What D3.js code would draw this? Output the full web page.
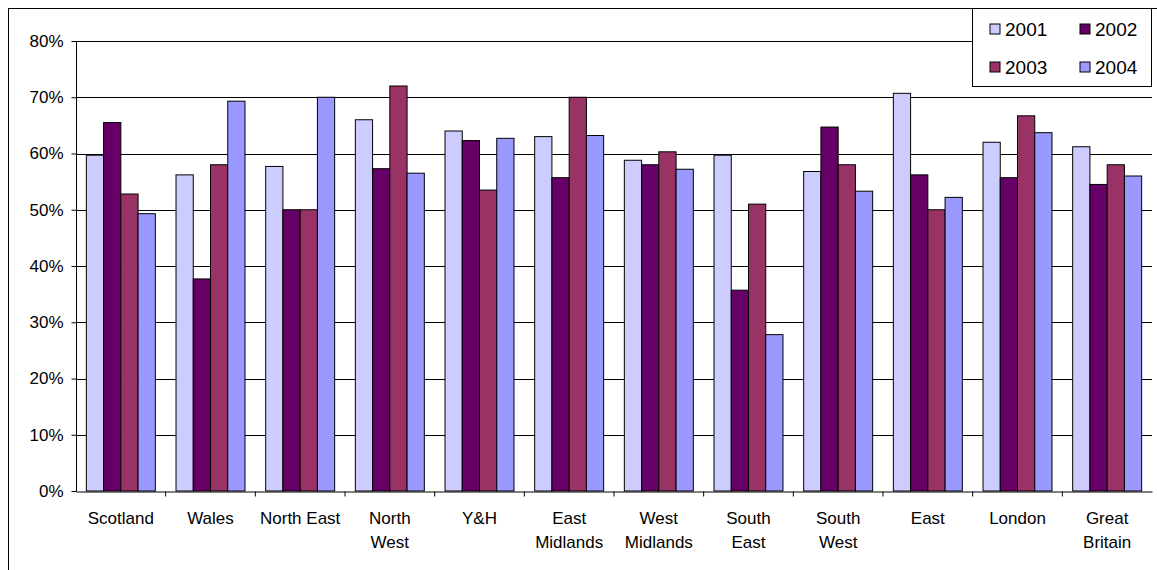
<!DOCTYPE html>
<html><head><meta charset="utf-8">
<script src="https://cdn.jsdelivr.net/npm/d3@7"></script>
<style>body{margin:0;background:#fff}text{font-family:Arial,"Liberation Sans",sans-serif;font-size:17px;fill:#000}</style>
</head><body><svg id="c" width="1157" height="570"></svg>
<script>
const regions = ["Scotland","Wales","North East","North West","Y&H","East Midlands","West Midlands","South East","South West","East","London","Great Britain"];
const years = ["2001","2002","2003","2004"];
const colors = ["#ccccff","#660066","#993366","#9999ff"];
const v2001 = [59.7,56.2,57.7,66,64,63,58.8,59.7,56.8,70.7,62,61.2];
const v2002 = [65.5,37.7,50,57.3,62.3,55.7,58,35.7,64.7,56.2,55.7,54.5];
const v2003 = [52.8,58,50,72,53.5,70,60.3,51,58,50,66.7,58];
const v2004 = [49.3,69.3,70,56.5,62.7,63.2,57.2,27.8,53.3,52.2,63.7,56];
const series = [v2001,v2002,v2003,v2004];
const yTicks = [0,10,20,30,40,50,60,70,80];

const svg = d3.select("#c");
svg.append("rect").attr("x",8.5).attr("y",8.5).attr("width",1160).attr("height",570).attr("fill","none").attr("stroke","#000");

const x = d3.scaleBand().domain(regions).range([76,1152]);
const xi = d3.scaleBand().domain(years).range([0,x.bandwidth()]).paddingOuter(0.6).paddingInner(0);
const y = d3.scaleLinear().domain([0,80]).range([491,41]);

svg.append("g").selectAll("line").data(yTicks.slice(1)).join("line")
  .attr("x1",76).attr("x2",1152).attr("y1",d=>Math.round(y(d))+.5).attr("y2",d=>Math.round(y(d))+.5).attr("stroke","#000");

svg.append("g").attr("transform","translate(76.5,0)")
  .call(d3.axisLeft(y).tickValues(yTicks).tickFormat(d=>d+"%").tickSize(5).tickPadding(8))
  .call(g=>{g.selectAll("text").style("font-size","17px");g.select(".domain").attr("d","M0,41V491.5");});

series.forEach((s,i)=>{
  svg.append("g").selectAll("rect").data(s).join("rect")
    .attr("x",(d,j)=>x(regions[j])+xi(years[i])).attr("width",xi.bandwidth())
    .attr("y",d=>y(d)).attr("height",d=>y(0)-y(d))
    .attr("fill",colors[i]).attr("stroke","#000").attr("stroke-width",1);
});

const xa = svg.append("g").attr("transform","translate(0,491.5)")
  .call(d3.axisBottom(x).tickSize(0).tickFormat(""));
xa.select(".domain").attr("stroke","#000");
xa.selectAll(".tk").data(regions.slice(1)).join("line").attr("class","tk")
  .attr("x1",d=>x(d)).attr("x2",d=>x(d)).attr("y1",0).attr("y2",5).attr("stroke","#000");
const lab = {"North West":["North","West"],"East Midlands":["East","Midlands"],"West Midlands":["West","Midlands"],"South East":["South","East"],"South West":["South","West"],"Great Britain":["Great","Britain"]};
regions.forEach(r=>{
  const lines = lab[r]||[r];
  const t = svg.append("text").attr("x",x(r)+x.bandwidth()/2).attr("y",524).attr("text-anchor","middle");
  lines.forEach((l,k)=>t.append("tspan").attr("x",x(r)+x.bandwidth()/2).attr("dy",k?24:0).text(l));
});

const lg = svg.append("g");
lg.append("rect").attr("x",972.5).attr("y",8.5).attr("width",179).attr("height",78).attr("fill","#fff").attr("stroke","#000");
years.forEach((yr,i)=>{
  const lx = 990 + (i%2)*90, ly = 29 + Math.floor(i/2)*38;
  lg.append("rect").attr("x",lx).attr("y",ly-5).attr("width",10).attr("height",10).attr("fill",colors[i]).attr("stroke","#000");
  lg.append("text").attr("x",lx+15).attr("y",ly+7).style("font-size","19px").text(yr);
});
</script></body></html>
